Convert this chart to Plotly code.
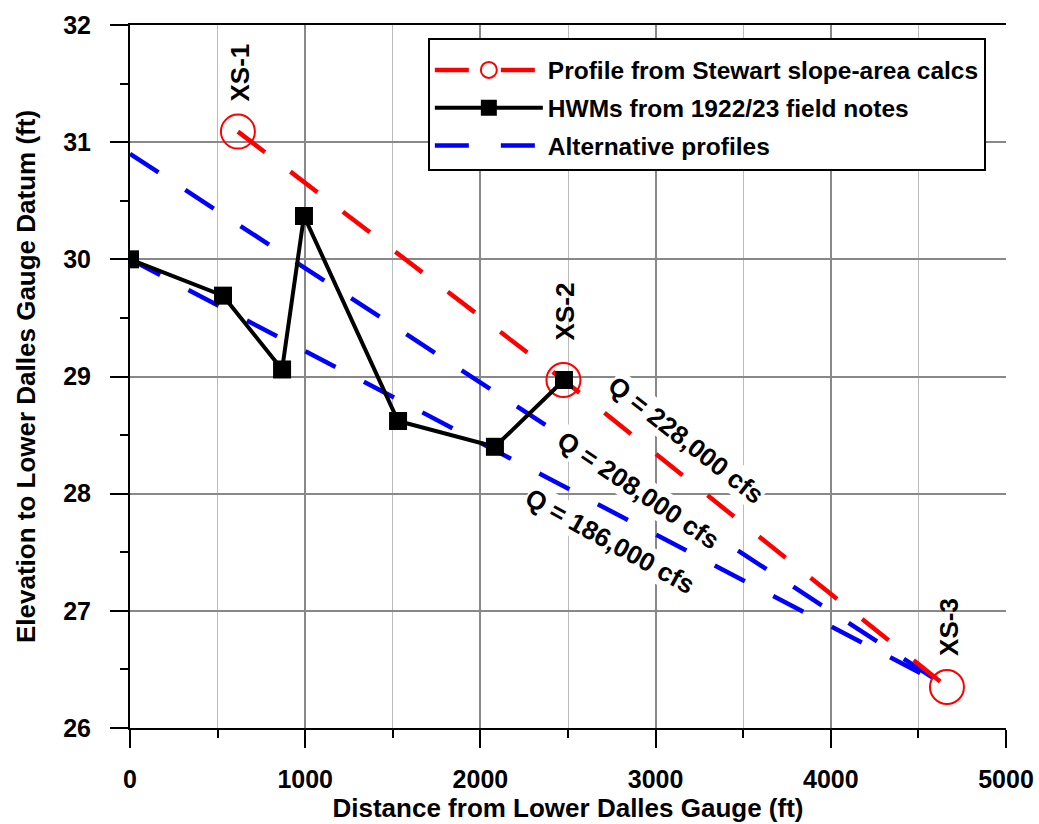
import plotly.graph_objects as go

# HWMs from 1922/23 field notes
hwm_x = [0, 531, 868, 993, 1530, 2083, 2477]
hwm_y = [30.00, 29.69, 29.06, 30.37, 28.62, 28.40, 28.97]

# Profile from Stewart slope-area calcs (XS-1, XS-2, XS-3)
xs_names = ["XS-1", "XS-2", "XS-3"]
xs_x = [616, 2474, 4663]
xs_y = [31.09, 28.97, 26.35]

# Alternative profiles
alt_hi_x = [0, 4663]
alt_hi_y = [30.90, 26.35]
alt_lo_x = [0, 4663]
alt_lo_y = [30.00, 26.35]

# Discharge labels: text, x, y, angle
q_text = ["Q = 228,000 cfs", "Q = 208,000 cfs", "Q = 186,000 cfs"]
q_x = [3174, 2900, 2740]
q_y = [28.46, 28.03, 27.60]
q_ang = [38, 34, 29]

FONT = "Arial, Liberation Sans, sans-serif"
DASH = "34px,32px"
XS_SHIFT = [59, 69, 60]

fig = go.Figure()

fig.add_trace(go.Scatter(
    x=alt_hi_x, y=alt_hi_y, mode="lines", name="Alternative profiles",
    line=dict(color="#0000ff", width=4.5, dash=DASH),
    legendgroup="c", legendrank=3, showlegend=True))
fig.add_trace(go.Scatter(
    x=alt_lo_x, y=alt_lo_y, mode="lines", name="Alternative profiles",
    line=dict(color="#0000ff", width=4.5, dash=DASH),
    legendgroup="c", showlegend=False))
fig.add_trace(go.Scatter(
    x=xs_x, y=xs_y, mode="lines+markers", name="Profile from Stewart slope-area calcs",
    line=dict(color="#ff0000", width=4.5, dash=DASH),
    marker=dict(symbol="circle-open", size=34, color="#ff0000", line=dict(width=2, color="#ff0000")),
    legendgroup="a", legendrank=1))
fig.add_trace(go.Scatter(
    x=hwm_x, y=hwm_y, mode="lines+markers", name="HWMs from 1922/23 field notes",
    line=dict(color="black", width=4),
    marker=dict(symbol="square", size=18, color="black"),
    legendgroup="b", legendrank=2))

# XS labels
for name, x, y, s in zip(xs_names, xs_x, xs_y, XS_SHIFT):
    fig.add_annotation(x=x, y=y, text=name, textangle=-90, showarrow=False,
                       yshift=s, xshift=2,
                       font=dict(family=FONT, size=26, color="black", weight="bold"))

for t, x, y, a in zip(q_text, q_x, q_y, q_ang):
    fig.add_annotation(x=x, y=y, text=t, textangle=a, showarrow=False,
                       bgcolor="white", borderpad=0,
                       font=dict(family=FONT, size=26, color="black", weight="bold"))

fig.update_layout(
    width=1039, height=824,
    margin=dict(l=130, r=33, t=25, b=96),
    paper_bgcolor="white", plot_bgcolor="white",
    font=dict(family=FONT, size=25, color="black", weight="bold"),
    showlegend=True,
    legend=dict(x=0.34, y=0.982, xanchor="left", yanchor="top",
                bgcolor="white", bordercolor="black", borderwidth=2,
                font=dict(family=FONT, size=24.5, color="black", weight="bold"),
                traceorder="grouped", tracegroupgap=3, itemwidth=108,
                itemsizing="trace",
                title=dict(text=" ", font=dict(size=6))),
    xaxis=dict(range=[0, 5000], tickvals=[0, 1000, 2000, 3000, 4000, 5000],
               automargin=False,
               showgrid=True, gridcolor="#888888", gridwidth=1.5,
               showline=True, linecolor="black", linewidth=2, mirror=True,
               ticks="outside", ticklen=18, tickwidth=2, tickcolor="black",
               ticklabelstandoff=10,
               minor=dict(dtick=500, tick0=0, ticks="outside", ticklen=8, tickwidth=2,
                          tickcolor="black", showgrid=True, gridcolor="#bbbbbb", gridwidth=1),
               zeroline=False,
               tickfont=dict(family=FONT, size=25, color="black", weight="bold"),
               title=dict(text="Distance from Lower Dalles Gauge (ft)", standoff=0,
                          font=dict(family=FONT, size=26, color="black", weight="bold"))),
    yaxis=dict(range=[26, 32], tickvals=[26, 27, 28, 29, 30, 31, 32],
               automargin=False,
               showgrid=True, gridcolor="#888888", gridwidth=1.5,
               showline=True, linecolor="black", linewidth=2,
               ticks="outside", ticklen=18, tickwidth=2, tickcolor="black",
               ticklabelstandoff=14,
               minor=dict(dtick=0.5, tick0=26, ticks="outside", ticklen=8, tickwidth=2,
                          tickcolor="black", showgrid=False),
               zeroline=False,
               tickfont=dict(family=FONT, size=25, color="black", weight="bold"),
               title=dict(text="Elevation to Lower Dalles Gauge Datum (ft)", standoff=20,
                          font=dict(family=FONT, size=26, color="black", weight="bold"))),
)

fig.write_html("out.html")
